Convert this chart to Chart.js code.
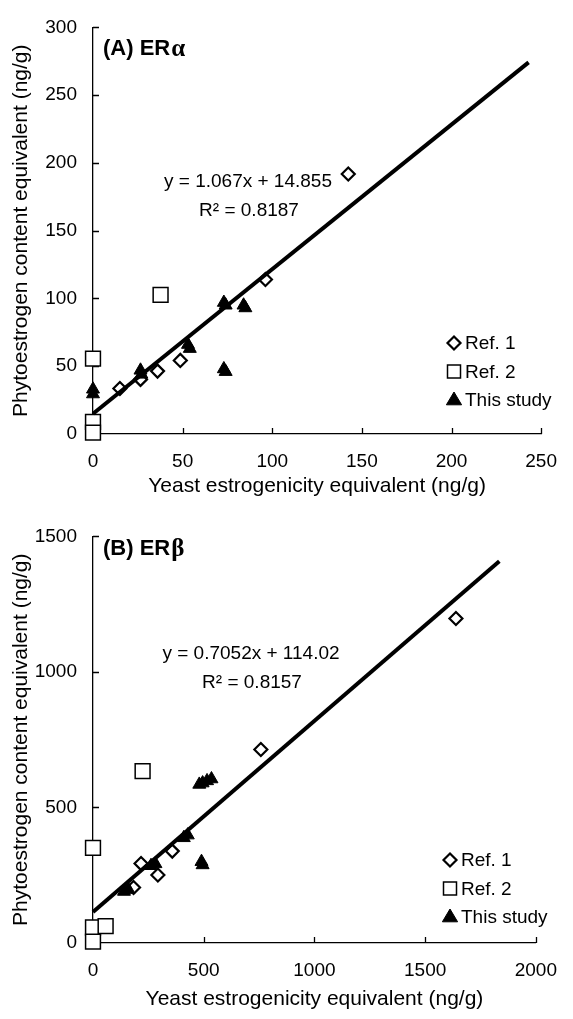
<!DOCTYPE html>
<html>
<head>
<meta charset="utf-8">
<script src="https://cdn.jsdelivr.net/npm/chart.js@4.4.0/dist/chart.umd.min.js"></script>
<style>
  html, body { margin: 0; padding: 0; background: #fff; }
  #wrap { position: relative; width: 573px; height: 1019px; }
  .box { position: absolute; left: 0; width: 573px; }
  #boxA { top: 0; height: 509px; }
  #boxB { top: 509px; height: 510px; }
</style>
</head>
<body>
<div id="wrap">
  <div class="box" id="boxA"><canvas id="chartA" width="573" height="509"></canvas></div>
  <div class="box" id="boxB"><canvas id="chartB" width="573" height="510"></canvas></div>
</div>
<script>
// --- Panel A (ERα) ---
const ref1AX = [15, 26.5, 36, 48.7, 96.2, 142.4];
const ref1AY = [33.6, 40.3, 46.4, 54.3, 114, 191.8];
const ref2AX = [37.7, 0, 0, 0];
const ref2AY = [102.7, 55.6, 9, 1];
const studyAX = [0, 0, 26.5, 27, 53, 54, 73, 74, 84, 85, 73, 74];
const studyAY = [33, 29.5, 47, 44, 66, 63, 97, 95, 95, 93, 48, 46];
const fitAX = [0, 243];
const fitAY = [14.9, 274.2];
const ticksAX = [0, 250, 50];
const ticksAY = [0, 300, 50];

// --- Panel B (ERβ) ---
const ref1BX = [183, 217, 293, 358, 758, 1639];
const ref1BY = [205, 293, 251, 339, 714, 1197];
const ref2BX = [224, 0, 0, 0, 57];
const ref2BY = [634, 351, 57, 5, 62];
const studyBX = [140, 160, 262, 282, 410, 428, 480, 495, 515, 535, 490, 495];
const studyBY = [190, 197, 285, 292, 388, 398, 585, 590, 598, 605, 300, 288];
const fitBX = [0, 1835];
const fitBY = [114, 1408];
const ticksBX = [0, 2000, 500];
const ticksBY = [0, 1500, 500];

const FONT = '"Liberation Sans", Arial, sans-serif';
Chart.defaults.font.family = FONT;
Chart.defaults.font.size = 19;
Chart.defaults.color = '#000';
Chart.defaults.animation = false;

// combine x / y lists into point objects
function pts(xs, ys) {
  return xs.map((x, i) => ({ x: x, y: ys[i] }));
}

// draws one marker (used by the legend)
function marker(ctx, style, r, bw, fill, x, y) {
  ctx.save();
  ctx.lineWidth = bw;
  ctx.strokeStyle = '#000';
  ctx.fillStyle = fill;
  ctx.beginPath();
  if (style === 'rectRot') {
    ctx.moveTo(x, y - r); ctx.lineTo(x + r, y); ctx.lineTo(x, y + r); ctx.lineTo(x - r, y);
  } else if (style === 'rect') {
    ctx.rect(x - r, y - r, 2 * r, 2 * r);
  } else {
    ctx.moveTo(x, y - r); ctx.lineTo(x + r * 0.95, y + r * 0.6); ctx.lineTo(x - r * 0.95, y + r * 0.6);
  }
  ctx.closePath();
  ctx.fill();
  ctx.stroke();
  ctx.restore();
}

// inner tick marks, panel label, equation and legend
const decorations = {
  id: 'decorations',
  beforeDatasetsDraw(chart) {
    const ctx = chart.ctx;
    const xs = chart.scales.x, ys = chart.scales.y;
    const a = chart.chartArea;
    ctx.save();
    ctx.strokeStyle = '#000';
    ctx.lineWidth = 1.3;
    ctx.beginPath();
    xs.ticks.forEach(t => {
      const px = Math.round(xs.getPixelForValue(t.value)) + 0.5;
      ctx.moveTo(px, a.bottom); ctx.lineTo(px, a.bottom - 6);
    });
    ys.ticks.forEach(t => {
      const py = Math.round(ys.getPixelForValue(t.value)) + 0.5;
      ctx.moveTo(a.left, py); ctx.lineTo(a.left + 6, py);
    });
    ctx.stroke();
    ctx.restore();
  },
  afterDraw(chart, args, opts) {
    const ctx = chart.ctx;
    ctx.save();
    ctx.fillStyle = '#000';
    ctx.textBaseline = 'middle';

    // panel label
    ctx.textAlign = 'left';
    ctx.font = 'bold 22px ' + FONT;
    ctx.fillText(opts.label, opts.labelPos[0], opts.labelPos[1]);
    const w = ctx.measureText(opts.label).width;
    ctx.font = 'bold 25px "Liberation Serif", "Times New Roman", serif';
    ctx.fillText(opts.greek, opts.labelPos[0] + w + 1, opts.labelPos[1] + 1);

    // regression equation
    ctx.textAlign = 'center';
    ctx.font = '19px ' + FONT;
    ctx.fillText(opts.eq, opts.eqPos[0], opts.eqPos[1]);
    ctx.fillText(opts.r2, opts.eqPos[0] + 1, opts.eqPos[1] + 29);

    // legend
    ctx.textAlign = 'left';
    const lx = opts.legendPos[0];
    let ly = opts.legendPos[1];
    chart.data.datasets.forEach(ds => {
      if (ds.noLegend) return;
      marker(ctx, ds.pointStyle, ds.legendR, ds.pointBorderWidth, ds.pointBackgroundColor, lx, ly);
      ctx.fillStyle = '#000';
      ctx.font = '19px ' + FONT;
      ctx.fillText(ds.label, lx + 11, ly + 1);
      ly += 28.5;
    });
    ctx.restore();
  }
};

function axis(range, title, isX, fitSize, titlePad) {
  return {
    type: 'linear',
    min: range[0],
    max: range[1],
    ticks: { stepSize: range[2], padding: 16, color: '#000', font: { size: 19 },
             callback: v => String(v) },
    grid: { display: false, drawTicks: false },
    border: { display: true, color: '#000', width: 1.3 },
    title: { display: true, text: title, color: '#000', font: { size: 21 },
             padding: isX ? { top: 0, bottom: titlePad } : { top: titlePad, bottom: 0 } },
    afterFit(s) {
      if (isX) s.height = fitSize; else s.width = fitSize;
    }
  };
}

function makeChart(id, d) {
  return new Chart(document.getElementById(id), {
    type: 'scatter',
    data: {
      datasets: [
        { label: 'fit', noLegend: true, data: pts(d.fitX, d.fitY), showLine: true,
          borderColor: '#000', borderWidth: 4, pointRadius: 0, order: 0, clip: false },
        { label: 'This study', data: pts(d.studyX, d.studyY), pointStyle: 'triangle',
          pointRadius: 7.5, legendR: 8, pointBorderWidth: 1, pointBackgroundColor: '#000',
          pointBorderColor: '#000', order: 1, clip: false },
        { label: 'Ref. 2', data: pts(d.ref2X, d.ref2Y), pointStyle: 'rect',
          pointRadius: 10.5, legendR: 6.5, pointBorderWidth: 1.5, pointBackgroundColor: '#fff',
          pointBorderColor: '#000', order: 2, clip: false },
        { label: 'Ref. 1', data: pts(d.ref1X, d.ref1Y), pointStyle: 'rectRot',
          pointRadius: 6.5, legendR: 6.5, pointBorderWidth: 2.2, pointBackgroundColor: '#fff',
          pointBorderColor: '#000', order: 3, clip: false }
      ].reverse()
    },
    options: {
      responsive: false,
      layout: { padding: { left: 0, top: d.padTop, right: d.padRight, bottom: 0 } },
      scales: {
        x: axis(d.ticksX, 'Yeast estrogenicity equivalent (ng/g)', true, d.xHeight, d.xTitlePad),
        y: axis(d.ticksY, 'Phytoestrogen content equivalent (ng/g)', false, 93, 9)
      },
      plugins: {
        legend: { display: false },
        tooltip: { enabled: false },
        decorations: d.deco
      }
    },
    plugins: [decorations]
  });
}

makeChart('chartA', {
  ref1X: ref1AX, ref1Y: ref1AY, ref2X: ref2AX, ref2Y: ref2AY,
  studyX: studyAX, studyY: studyAY, fitX: fitAX, fitY: fitAY,
  ticksX: ticksAX, ticksY: ticksAY,
  padTop: 20, padRight: 20, xHeight: 75, xTitlePad: 10,
  deco: {
    label: '(A) ER', greek: 'α', labelPos: [103, 49],
    eq: 'y = 1.067x + 14.855', r2: 'R² = 0.8187', eqPos: [248, 182],
    legendPos: [454, 343]
  }
});

makeChart('chartB', {
  ref1X: ref1BX, ref1Y: ref1BY, ref2X: ref2BX, ref2Y: ref2BY,
  studyX: studyBX, studyY: studyBY, fitX: fitBX, fitY: fitBY,
  ticksX: ticksBX, ticksY: ticksBY,
  padTop: 23, padRight: 22, xHeight: 76, xTitlePad: 7,
  deco: {
    label: '(B) ER', greek: 'β', labelPos: [103, 40],
    eq: 'y = 0.7052x + 114.02', r2: 'R² = 0.8157', eqPos: [251, 145],
    legendPos: [450, 351]
  }
});
</script>
</body>
</html>
